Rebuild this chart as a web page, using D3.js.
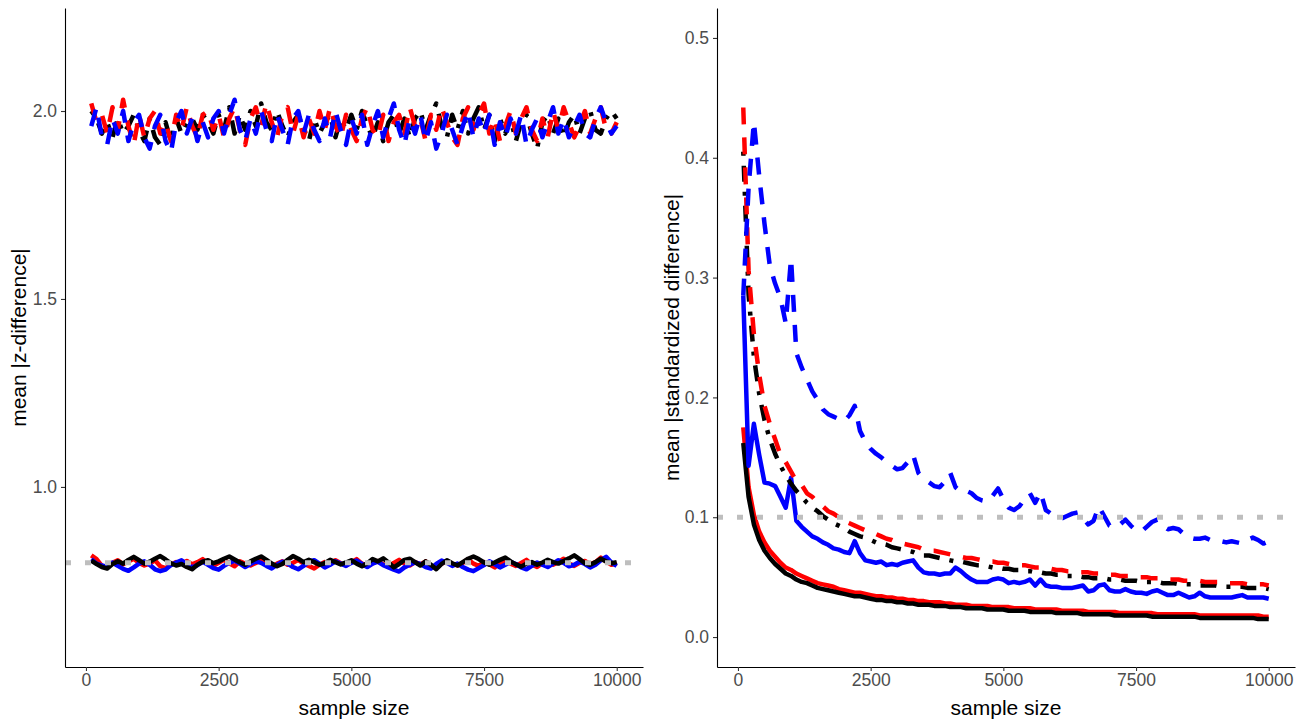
<!DOCTYPE html>
<html>
<head>
<meta charset="utf-8">
<script src="https://cdn.jsdelivr.net/npm/d3@7"></script>
<style>
  body { margin: 0; background: #fff; }
  text { font-family: "Liberation Sans", Arial, sans-serif; }
</style>
</head>
<body>
<script>
var width = 1304;
var height = 725;

var sampleSizes = [
  100, 200, 300, 400, 500, 600, 700, 800, 900, 1000,
  1100, 1200, 1300, 1400, 1500, 1600, 1700, 1800, 1900, 2000,
  2100, 2200, 2300, 2400, 2500, 2600, 2700, 2800, 2900, 3000,
  3100, 3200, 3300, 3400, 3500, 3600, 3700, 3800, 3900, 4000,
  4100, 4200, 4300, 4400, 4500, 4600, 4700, 4800, 4900, 5000,
  5100, 5200, 5300, 5400, 5500, 5600, 5700, 5800, 5900, 6000,
  6100, 6200, 6300, 6400, 6500, 6600, 6700, 6800, 6900, 7000,
  7100, 7200, 7300, 7400, 7500, 7600, 7700, 7800, 7900, 8000,
  8100, 8200, 8300, 8400, 8500, 8600, 8700, 8800, 8900, 9000,
  9100, 9200, 9300, 9400, 9500, 9600, 9700, 9800, 9900, 10000
];

// left panel: mean |z-difference|, upper (dashed) group
var zRedDashed = [
  2.02, 1.97, 1.99, 1.94, 2.01, 1.95, 2.03, 1.96, 1.91, 1.99,
  1.93, 1.98, 2.00, 1.94, 1.97, 1.92, 1.99, 1.95, 2.01, 1.96,
  1.93, 1.99, 2.00, 1.95, 1.99, 1.93, 1.98, 2.01, 1.95, 1.91,
  1.98, 2.01, 1.96, 2.02, 1.97, 1.93, 1.99, 2.01, 1.94, 1.99,
  1.93, 1.98, 1.94, 2.00, 1.95, 2.01, 1.96, 1.93, 1.99, 1.95,
  1.92, 1.98, 2.01, 1.95, 1.93, 1.99, 1.92, 1.97, 1.99, 1.94,
  2.01, 1.96, 1.98, 1.92, 1.99, 1.95, 2.01, 1.97, 1.93, 1.91,
  1.98, 2.01, 1.95, 1.99, 2.02, 1.94, 1.98, 1.92, 1.96, 2.00,
  1.94, 1.98, 2.01, 1.95, 1.92, 1.98, 1.93, 2.00, 1.95, 2.01,
  1.97, 1.93, 1.96, 2.00, 1.94, 1.98, 2.01, 1.95, 1.94, 1.97
];
var zBlueDashed = [
  1.96, 2.01, 1.93, 1.91, 1.98, 1.94, 2.00, 1.92, 1.97, 1.99,
  1.93, 1.90, 1.96, 1.99, 1.92, 1.89, 1.97, 2.00, 1.94, 1.98,
  1.92, 1.97, 1.93, 1.98, 2.00, 1.94, 1.99, 2.03, 1.95, 1.92,
  1.98, 1.94, 2.00, 1.95, 1.92, 1.99, 1.95, 1.91, 1.98, 2.00,
  1.94, 1.99, 1.95, 1.92, 1.98, 1.93, 2.00, 1.95, 1.91, 1.98,
  1.94, 1.99, 1.91, 1.96, 2.00, 1.93, 1.98, 2.02, 1.95, 1.91,
  1.98, 1.94, 1.99, 1.92, 1.97, 1.90, 1.94, 1.99, 1.95, 1.91,
  1.96, 2.00, 1.93, 1.98, 1.94, 1.99, 1.91, 1.97, 1.93, 1.98,
  1.94, 1.99, 1.91, 1.95, 1.98, 1.93, 1.97, 2.01, 1.94, 1.98,
  1.93, 1.96, 1.99, 1.94, 1.93, 1.98, 2.01, 1.97, 1.94, 1.96
];
var zBlackDotdash = [
  2.00, 1.98, 1.94, 1.97, 1.93, 1.98, 1.94, 1.96, 1.99, 1.95,
  1.92, 1.98, 1.93, 1.91, 1.97, 1.92, 1.98, 1.94, 1.97, 1.98,
  1.95, 1.99, 1.97, 1.94, 1.99, 1.95, 2.01, 1.94, 1.99, 1.95,
  2.00, 1.96, 2.02, 1.97, 1.95, 2.00, 1.96, 1.93, 1.97, 1.99,
  1.95, 1.92, 1.98, 1.94, 1.97, 1.99, 1.93, 1.98, 1.95, 1.99,
  1.95, 2.00, 1.96, 1.93, 1.97, 1.92, 1.97, 1.99, 1.94, 1.98,
  1.93, 1.98, 2.00, 1.95, 1.99, 2.02, 1.96, 1.93, 1.99, 1.95,
  2.00, 1.94, 1.98, 2.01, 1.95, 1.99, 1.92, 1.98, 1.94, 1.98,
  1.92, 1.97, 1.99, 1.94, 1.90, 1.97, 1.99, 1.94, 1.98, 1.93,
  1.97, 1.99, 1.94, 1.98, 2.00, 1.95, 1.94, 1.98, 2.00, 1.98
];

// left panel, lower (solid) group
var zRedSolid = [
  0.818, 0.808, 0.790, 0.786, 0.798, 0.805, 0.794, 0.802, 0.809, 0.798,
  0.791, 0.796, 0.805, 0.789, 0.784, 0.793, 0.800, 0.796, 0.803, 0.794,
  0.800, 0.808, 0.796, 0.790, 0.798, 0.806, 0.797, 0.789, 0.802, 0.796,
  0.791, 0.798, 0.805, 0.794, 0.787, 0.796, 0.802, 0.793, 0.798, 0.806,
  0.796, 0.790, 0.783, 0.793, 0.800, 0.796, 0.805, 0.797, 0.791, 0.800,
  0.808, 0.796, 0.789, 0.797, 0.803, 0.794, 0.787, 0.798, 0.806, 0.796,
  0.791, 0.800, 0.794, 0.802, 0.790, 0.784, 0.796, 0.803, 0.796, 0.791,
  0.798, 0.808, 0.796, 0.790, 0.800, 0.794, 0.786, 0.797, 0.805, 0.796,
  0.790, 0.798, 0.806, 0.794, 0.787, 0.797, 0.803, 0.793, 0.800, 0.809,
  0.796, 0.790, 0.798, 0.803, 0.794, 0.800, 0.812, 0.802, 0.793, 0.797
];
var zBlueSolid = [
  0.808, 0.796, 0.791, 0.787, 0.799, 0.790, 0.782, 0.777, 0.786, 0.796,
  0.802, 0.793, 0.781, 0.776, 0.780, 0.792, 0.799, 0.805, 0.795, 0.786,
  0.792, 0.801, 0.793, 0.784, 0.780, 0.790, 0.798, 0.804, 0.796, 0.787,
  0.795, 0.802, 0.798, 0.790, 0.783, 0.793, 0.801, 0.796, 0.787, 0.781,
  0.790, 0.801, 0.805, 0.796, 0.786, 0.793, 0.802, 0.796, 0.790, 0.798,
  0.804, 0.795, 0.787, 0.796, 0.801, 0.792, 0.786, 0.780, 0.775, 0.786,
  0.793, 0.799, 0.795, 0.787, 0.783, 0.795, 0.804, 0.798, 0.790, 0.796,
  0.787, 0.780, 0.776, 0.784, 0.792, 0.802, 0.795, 0.786, 0.793, 0.801,
  0.795, 0.786, 0.781, 0.790, 0.799, 0.793, 0.787, 0.796, 0.805, 0.798,
  0.789, 0.793, 0.801, 0.795, 0.786, 0.793, 0.805, 0.814, 0.799, 0.790
];
var zBlackSolid = [
  0.804, 0.795, 0.787, 0.783, 0.795, 0.802, 0.796, 0.806, 0.814, 0.805,
  0.796, 0.801, 0.809, 0.816, 0.807, 0.797, 0.791, 0.795, 0.787, 0.781,
  0.793, 0.801, 0.805, 0.797, 0.802, 0.809, 0.815, 0.807, 0.799, 0.793,
  0.802, 0.809, 0.815, 0.806, 0.796, 0.789, 0.795, 0.806, 0.816, 0.809,
  0.800, 0.806, 0.800, 0.793, 0.797, 0.806, 0.800, 0.794, 0.799, 0.805,
  0.796, 0.789, 0.797, 0.808, 0.802, 0.810, 0.799, 0.786, 0.795, 0.806,
  0.809, 0.800, 0.791, 0.802, 0.793, 0.781, 0.795, 0.805, 0.797, 0.791,
  0.800, 0.809, 0.815, 0.808, 0.799, 0.793, 0.799, 0.806, 0.812, 0.802,
  0.794, 0.788, 0.796, 0.800, 0.793, 0.799, 0.806, 0.800, 0.796, 0.803,
  0.810, 0.818, 0.808, 0.797, 0.793, 0.800, 0.809, 0.802, 0.797, 0.800
];

// right panel: mean |standardized difference|
var sBlackSolid = [
  0.162, 0.117, 0.094, 0.081, 0.072, 0.066, 0.061, 0.057, 0.053, 0.051,
  0.048, 0.046, 0.045, 0.043, 0.041, 0.040, 0.039, 0.038, 0.037, 0.036,
  0.035, 0.034, 0.034, 0.033, 0.032, 0.031, 0.031, 0.030, 0.030, 0.029,
  0.029, 0.028, 0.028, 0.027, 0.027, 0.027, 0.026, 0.026, 0.026, 0.025,
  0.025, 0.025, 0.024, 0.024, 0.024, 0.024, 0.023, 0.023, 0.023, 0.023,
  0.022, 0.022, 0.022, 0.022, 0.021, 0.021, 0.021, 0.021, 0.021, 0.020,
  0.020, 0.020, 0.020, 0.020, 0.019, 0.019, 0.019, 0.019, 0.019, 0.019,
  0.018, 0.018, 0.018, 0.018, 0.018, 0.018, 0.018, 0.017, 0.017, 0.017,
  0.017, 0.017, 0.017, 0.017, 0.017, 0.017, 0.016, 0.016, 0.016, 0.016,
  0.016, 0.016, 0.016, 0.016, 0.016, 0.016, 0.016, 0.015, 0.015, 0.015
];
var sRedSolid = [
  0.175, 0.125, 0.102, 0.088, 0.079, 0.072, 0.067, 0.062, 0.058, 0.056,
  0.053, 0.051, 0.049, 0.047, 0.045, 0.044, 0.043, 0.042, 0.040, 0.039,
  0.038, 0.037, 0.037, 0.036, 0.035, 0.034, 0.034, 0.033, 0.033, 0.032,
  0.032, 0.031, 0.031, 0.030, 0.030, 0.029, 0.029, 0.029, 0.028, 0.028,
  0.027, 0.027, 0.027, 0.026, 0.026, 0.026, 0.026, 0.025, 0.025, 0.025,
  0.025, 0.024, 0.024, 0.024, 0.024, 0.023, 0.023, 0.023, 0.023, 0.023,
  0.022, 0.022, 0.022, 0.022, 0.022, 0.021, 0.021, 0.021, 0.021, 0.021,
  0.021, 0.020, 0.020, 0.020, 0.020, 0.020, 0.020, 0.020, 0.019, 0.019,
  0.019, 0.019, 0.019, 0.019, 0.019, 0.019, 0.018, 0.018, 0.018, 0.018,
  0.018, 0.018, 0.018, 0.018, 0.018, 0.018, 0.018, 0.018, 0.017, 0.017
];
var sBlueSolid = [
  0.285, 0.143, 0.178, 0.152, 0.129, 0.128, 0.126, 0.117, 0.108, 0.133,
  0.097, 0.092, 0.088, 0.084, 0.082, 0.079, 0.077, 0.074, 0.073, 0.071,
  0.070, 0.080, 0.070, 0.064, 0.063, 0.062, 0.063, 0.060, 0.061, 0.060,
  0.062, 0.063, 0.064, 0.058, 0.054, 0.053, 0.053, 0.052, 0.053, 0.053,
  0.058, 0.055, 0.051, 0.048, 0.046, 0.046, 0.046, 0.048, 0.049, 0.048,
  0.045, 0.046, 0.045, 0.046, 0.048, 0.043, 0.048, 0.043, 0.042, 0.042,
  0.041, 0.041, 0.041, 0.042, 0.043, 0.038, 0.039, 0.043, 0.044, 0.039,
  0.038, 0.038, 0.040, 0.038, 0.037, 0.037, 0.036, 0.038, 0.039, 0.037,
  0.035, 0.035, 0.037, 0.035, 0.033, 0.034, 0.037, 0.034, 0.033, 0.033,
  0.033, 0.033, 0.033, 0.034, 0.035, 0.033, 0.033, 0.033, 0.033, 0.032
];
var sRedDashed = [
  0.442, 0.306, 0.253, 0.219, 0.193, 0.178, 0.165, 0.152, 0.146, 0.138,
  0.130, 0.127, 0.120, 0.117, 0.112, 0.109, 0.105, 0.103, 0.100, 0.097,
  0.095, 0.093, 0.091, 0.089, 0.087, 0.086, 0.084, 0.082, 0.081, 0.079,
  0.078, 0.077, 0.076, 0.075, 0.073, 0.072, 0.072, 0.071, 0.070, 0.069,
  0.068, 0.067, 0.066, 0.066, 0.065, 0.064, 0.063, 0.063, 0.062, 0.062,
  0.061, 0.060, 0.060, 0.060, 0.059, 0.058, 0.058, 0.057, 0.057, 0.056,
  0.056, 0.055, 0.055, 0.054, 0.054, 0.054, 0.053, 0.053, 0.052, 0.052,
  0.052, 0.051, 0.051, 0.051, 0.050, 0.050, 0.050, 0.049, 0.049, 0.049,
  0.048, 0.048, 0.048, 0.047, 0.047, 0.047, 0.047, 0.046, 0.046, 0.046,
  0.046, 0.045, 0.045, 0.045, 0.045, 0.044, 0.044, 0.044, 0.044, 0.043
];
var sBlackDotdash = [
  0.405, 0.286, 0.234, 0.203, 0.181, 0.165, 0.153, 0.143, 0.135, 0.128,
  0.122, 0.117, 0.112, 0.108, 0.105, 0.101, 0.098, 0.095, 0.093, 0.091,
  0.088, 0.086, 0.084, 0.083, 0.081, 0.079, 0.078, 0.077, 0.075, 0.074,
  0.073, 0.072, 0.071, 0.069, 0.068, 0.068, 0.067, 0.066, 0.065, 0.064,
  0.063, 0.063, 0.062, 0.061, 0.060, 0.060, 0.059, 0.058, 0.058, 0.057,
  0.057, 0.056, 0.056, 0.055, 0.055, 0.054, 0.054, 0.053, 0.053, 0.052,
  0.052, 0.051, 0.051, 0.051, 0.050, 0.050, 0.049, 0.049, 0.049, 0.048,
  0.048, 0.048, 0.047, 0.047, 0.047, 0.046, 0.046, 0.046, 0.046, 0.045,
  0.045, 0.045, 0.044, 0.044, 0.044, 0.044, 0.043, 0.043, 0.043, 0.043,
  0.042, 0.042, 0.042, 0.042, 0.042, 0.041, 0.041, 0.041, 0.041, 0.040
];
var sBlueDashed = [
  0.285, 0.375, 0.430, 0.385, 0.345, 0.310, 0.295, 0.283, 0.262, 0.316,
  0.237, 0.225, 0.215, 0.205, 0.198, 0.190, 0.186, 0.184, 0.182, 0.180,
  0.185, 0.193, 0.172, 0.163, 0.157, 0.153, 0.150, 0.146, 0.143, 0.140,
  0.141, 0.146, 0.152, 0.137, 0.132, 0.129, 0.126, 0.125, 0.130, 0.137,
  0.125, 0.121, 0.122, 0.120, 0.116, 0.114, 0.113, 0.118, 0.124, 0.115,
  0.108, 0.106, 0.109, 0.115, 0.120, 0.112, 0.121, 0.106, 0.103, 0.100,
  0.099, 0.101, 0.103, 0.104, 0.099, 0.094, 0.097, 0.109, 0.101, 0.093,
  0.091, 0.094, 0.098, 0.093, 0.089, 0.088, 0.092, 0.096, 0.098, 0.093,
  0.090, 0.091, 0.090, 0.086, 0.083, 0.082, 0.082, 0.083, 0.081, 0.080,
  0.080, 0.079, 0.080, 0.079, 0.078, 0.081, 0.083, 0.081, 0.078, 0.080
];

var xTicks = [0, 2500, 5000, 7500, 10000];
var zTicks = [1.0, 1.5, 2.0];
var sTicks = [0.0, 0.1, 0.2, 0.3, 0.4, 0.5];
var zReference = 0.798;
var sReference = 0.1;

var DASHED = "17,13";
var DOTDASH = "4,10,16,10";

var svg = d3.select("body")
    .append("svg")
    .attr("width", width)
    .attr("height", height);

svg.append("rect").attr("width", width).attr("height", height).attr("fill", "#fff");

function drawPanel(box, yDomain, yTicks, yTitle, series, refValue) {
    var x = d3.scaleLinear().domain([-395, 10495]).range([box.left, box.right]);
    var y = d3.scaleLinear().domain(yDomain).range([box.bottom, box.top]);

    var line = d3.line()
        .x(function(d, i) { return x(sampleSizes[i]); })
        .y(function(d) { return y(d); });

    var g = svg.append("g");

    series.forEach(function(s) {
        g.append("path")
            .datum(s.values)
            .attr("fill", "none")
            .attr("stroke", s.color)
            .attr("stroke-width", 4.5)
            .attr("stroke-linejoin", "round")
            .attr("stroke-dasharray", s.dash)
            .attr("d", line);
    });

    // reference line, dotted grey
    g.append("line")
        .attr("x1", box.left)
        .attr("x2", box.right)
        .attr("y1", y(refValue))
        .attr("y2", y(refValue))
        .attr("stroke", "#BEBEBE")
        .attr("stroke-width", 5)
        .attr("stroke-dasharray", "6,14");

    var xAxis = svg.append("g")
        .attr("transform", "translate(0," + box.bottom + ")")
        .call(d3.axisBottom(x).tickValues(xTicks).tickSize(4).tickSizeOuter(0).tickPadding(3)
            .tickFormat(d3.format("d")));

    var yAxis = svg.append("g")
        .attr("transform", "translate(" + box.left + ",0)")
        .call(d3.axisLeft(y).tickValues(yTicks).tickSize(4).tickSizeOuter(0).tickPadding(4)
            .tickFormat(d3.format(".1f")));

    [xAxis, yAxis].forEach(function(a) {
        a.attr("font-family", null).attr("font-size", null);
        a.select(".domain").attr("stroke", "#000").attr("stroke-width", 1.1);
        a.selectAll(".tick line").attr("stroke", "#333").attr("stroke-width", 1.1);
        a.selectAll(".tick text").attr("fill", "#4D4D4D").style("font-size", "17.5px");
    });

    svg.append("text")
        .attr("x", (box.left + box.right) / 2)
        .attr("y", 715)
        .attr("text-anchor", "middle")
        .style("font-size", "21px")
        .attr("fill", "#000")
        .text("sample size");

    svg.append("text")
        .attr("transform", "translate(" + box.titleX + "," + ((box.top + box.bottom) / 2) + ") rotate(-90)")
        .attr("text-anchor", "middle")
        .style("font-size", "21px")
        .attr("fill", "#000")
        .text(yTitle);
}

drawPanel(
    { left: 65, right: 643, top: 8, bottom: 667, titleX: 26 },
    [0.521, 2.274], zTicks, "mean |z-difference|",
    [
        { values: zBlackDotdash, color: "#000000", dash: DOTDASH },
        { values: zRedDashed, color: "#FF0000", dash: DASHED },
        { values: zBlueDashed, color: "#0000FF", dash: DASHED },
        { values: zRedSolid, color: "#FF0000", dash: null },
        { values: zBlueSolid, color: "#0000FF", dash: null },
        { values: zBlackSolid, color: "#000000", dash: null }
    ],
    zReference
);

drawPanel(
    { left: 717, right: 1295, top: 8, bottom: 667, titleX: 679 },
    [-0.025, 0.525], sTicks, "mean |standardized difference|",
    [
        { values: sRedSolid, color: "#FF0000", dash: null },
        { values: sBlackSolid, color: "#000000", dash: null },
        { values: sBlueSolid, color: "#0000FF", dash: null },
        { values: sBlackDotdash, color: "#000000", dash: DOTDASH },
        { values: sRedDashed, color: "#FF0000", dash: DASHED },
        { values: sBlueDashed, color: "#0000FF", dash: DASHED }
    ],
    sReference
);
</script>
</body>
</html>
